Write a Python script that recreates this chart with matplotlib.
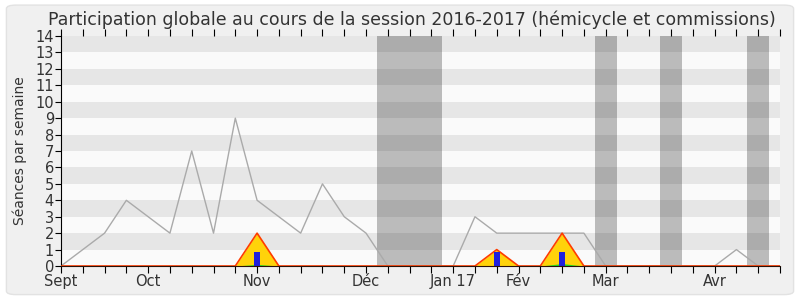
import numpy as np
import matplotlib
matplotlib.use('Agg')
import matplotlib.pyplot as plt
from matplotlib.patches import FancyBboxPatch

# weekly values, sept 2016 -> end of april 2017
weeks = list(range(34))
total = [0, 1, 2, 4, 3, 2, 7, 2, 9, 4, 3, 2, 5, 3, 2, 0, 0, 0,
         0, 3, 2, 2, 2, 2, 2, 0, 0, 0, 0, 0, 0, 1, 0, 0]
presence = [0, 0, 0, 0, 0, 0, 0, 0, 0, 2, 0, 0, 0, 0, 0, 0, 0, 0,
            0, 0, 1, 0, 0, 2, 0, 0, 0, 0, 0, 0, 0, 0, 0, 0]
mentions = [0, 0, 0, 0, 0, 0, 0, 0, 0, 0.1, 0, 0, 0, 0, 0, 0, 0, 0,
            0, 0, 0, 0, 0, 0.15, 0, 0, 0, 0, 0, 0, 0, 0, 0, 0]
interventions = [0, 0, 0, 0, 0, 0, 0, 0, 0, 0.85, 0, 0, 0, 0, 0, 0, 0, 0,
                 0, 0, 0.87, 0, 0, 0.85, 0, 0, 0, 0, 0, 0, 0, 0, 0, 0]
vacances = [(14.5, 17.5), (24.5, 25.5), (27.5, 28.5), (31.5, 32.5)]
month_pos = [0, 4, 9, 14, 18, 21, 25, 30]
month_labels = ['Sept', 'Oct', 'Nov', 'Déc', 'Jan 17', 'Fév', 'Mar', 'Avr']

fig = plt.figure(figsize=(8, 3), dpi=100)
fig.patch.set_facecolor('white')
fig.patches.append(FancyBboxPatch((0.008, 0.018), 0.984, 0.965, boxstyle='round,pad=0,rounding_size=0.012',
                                  transform=fig.transFigure, facecolor='#f0f0f0', edgecolor='#e2e2e2',
                                  linewidth=1, zorder=-10))
ax = fig.add_axes([0.07625, 0.1133, 0.89875, 0.7667])
ax.set_facecolor('#fafafa')

for k in range(1, 14, 2):
    ax.axhspan(k, k + 1, color='#e6e6e6', lw=0, zorder=0)
for a, b in vacances:
    ax.axvspan(a, b, color='black', alpha=0.25, lw=0, zorder=1)

ax.plot(weeks, total, color='#aaaaaa', lw=1, zorder=2)
ax.fill_between(weeks, presence, color='#ffd20a', lw=0, zorder=3)
ax.plot(weeks, presence, color='#ff3c00', lw=1.2, zorder=4)
ax.fill_between(weeks, mentions, color='#22dd22', lw=0, zorder=5)
ax.bar(weeks, interventions, width=0.28, color='#2020dd', zorder=6)

ax.set_xlim(0, 33)
ax.set_ylim(0, 14)
ax.set_yticks(range(15))
ax.set_xticks(weeks)
lab = [''] * len(weeks)
for p, l in zip(month_pos, month_labels):
    lab[p] = l
ax.set_xticklabels(lab)
ax.tick_params(axis='both', labelsize=10.5, colors='#333333', length=4, pad=1)
ax.tick_params(axis='x', length=5, color='black', pad=1)
ax.tick_params(axis='y', color='black')
ax.tick_params(top=True, direction='out')
for s in ['top', 'right']:
    ax.spines[s].set_visible(False)
ax.spines['left'].set_color('black')
ax.spines['bottom'].set_color('#2a1208')
ax.spines['bottom'].set_zorder(7)
ax.set_ylabel('Séances par semaine', fontsize=10, color='#333333', labelpad=6)

fig.text(0.515, 0.935, 'Participation globale au cours de la session 2016-2017 (hémicycle et commissions)',
         ha='center', va='center', fontsize=12.5, color='#333333')

plt.savefig('out.png', dpi=100)
